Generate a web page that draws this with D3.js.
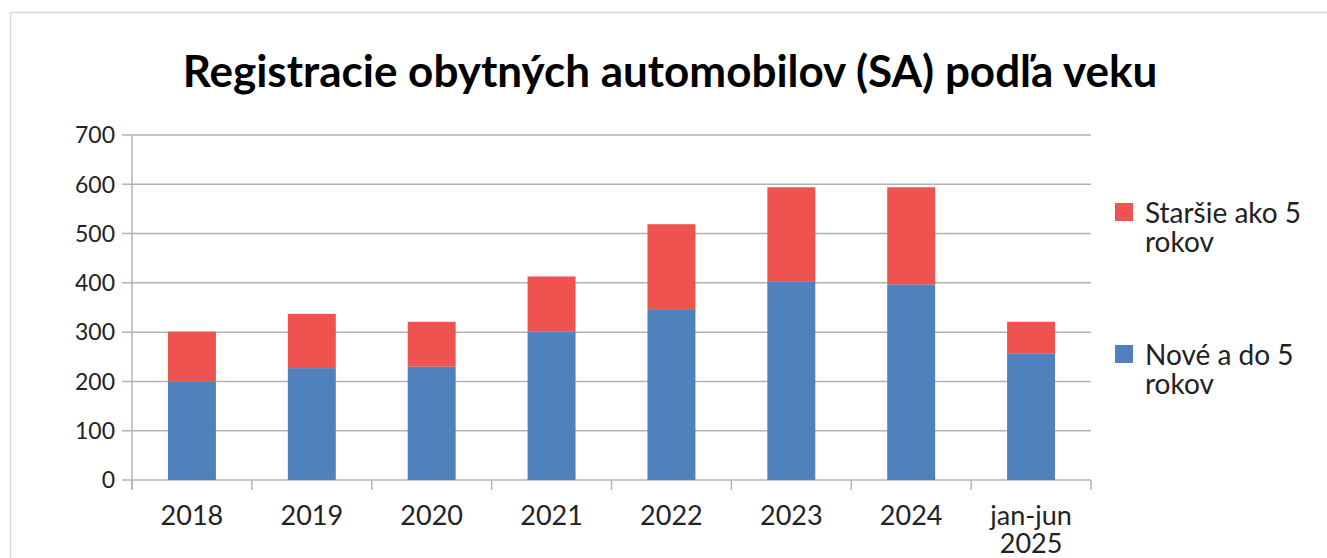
<!DOCTYPE html>
<html>
<head>
<meta charset="utf-8">
<script src="https://cdn.jsdelivr.net/npm/d3@7"></script>
<style>
  body { margin: 0; background: #fff; }
  text { font-family: Lato, "Open Sans", sans-serif; fill: #222; }
</style>
</head>
<body>
<div id="chart"></div>
<script>
//--data--
var categories = ["2018", "2019", "2020", "2021", "2022", "2023", "2024", "jan-jun 2025"];
var newUpTo5 = [200, 227, 230, 301, 345, 402, 397, 256];
var olderThan5 = [101, 110, 91, 112, 174, 192, 197, 65];
var yTicks = [0, 100, 200, 300, 400, 500, 600, 700];
var seriesColors = ["#4f81bd", "#ef5350"];

var W = 1327, H = 558;
var mLeft = 132, mRight = 1091, mTop = 135, mBottom = 480;

var svg = d3.select("#chart").append("svg")
    .attr("width", W).attr("height", H);

// frame
svg.append("rect")
    .attr("x", 10.5).attr("y", 12.5)
    .attr("width", W).attr("height", H)
    .attr("fill", "none").attr("stroke", "#d9d9d9").attr("stroke-width", 1.5);

// title
svg.append("text")
    .attr("x", 670).attr("y", 87)
    .attr("text-anchor", "middle")
    .style("font-size", "44px").style("font-weight", "bold")
    .style("fill", "#000")
    .text("Registracie obytných automobilov (SA) podľa veku");

var x = d3.scaleBand().domain(categories).range([mLeft, mRight]).paddingInner(0).paddingOuter(0);
var y = d3.scaleLinear().domain([0, 700]).range([mBottom, mTop]);

// gridlines
svg.append("g").selectAll("line").data(yTicks).join("line")
    .attr("x1", mLeft - 10).attr("x2", mRight)
    .attr("y1", function (d) { return y(d); }).attr("y2", function (d) { return y(d); })
    .attr("stroke", "#b3b3b3").attr("stroke-width", 1.5);

// y labels
svg.append("g").selectAll("text").data(yTicks).join("text")
    .attr("x", 115).attr("y", function (d) { return y(d); })
    .attr("dy", "0.36em").attr("text-anchor", "end")
    .style("font-size", "23px")
    .text(function (d) { return d; });

// y axis line
svg.append("line")
    .attr("x1", mLeft).attr("x2", mLeft).attr("y1", mTop).attr("y2", mBottom + 10)
    .attr("stroke", "#b3b3b3").attr("stroke-width", 1.5);

// x ticks at band edges
var edges = categories.map(function (c) { return x(c); }).concat([mRight]);
svg.append("g").selectAll("line").data(edges).join("line")
    .attr("x1", function (d) { return d; }).attr("x2", function (d) { return d; })
    .attr("y1", mBottom).attr("y2", mBottom + 10)
    .attr("stroke", "#b3b3b3").attr("stroke-width", 1.5);

// stacked bars
var rows = categories.map(function (c, i) {
    return { cat: c, s0: newUpTo5[i], s1: olderThan5[i] };
});
var stack = d3.stack().keys(["s0", "s1"])(rows);
var barW = x.bandwidth() * 0.4;

svg.append("g").selectAll("g").data(stack).join("g")
    .attr("fill", function (d, i) { return seriesColors[i]; })
    .selectAll("rect").data(function (d) { return d; }).join("rect")
    .attr("x", function (d) { return x(d.data.cat) + (x.bandwidth() - barW) / 2; })
    .attr("width", barW)
    .attr("y", function (d) { return y(d[1]); })
    .attr("height", function (d) { return y(d[0]) - y(d[1]); });

// x labels
var xl = svg.append("g").selectAll("text").data(categories).join("text")
    .attr("x", function (d) { return x(d) + x.bandwidth() / 2; })
    .attr("y", 525)
    .attr("text-anchor", "middle")
    .style("font-size", "27px");
xl.each(function (d) {
    var parts = d.indexOf(" ") > 0 ? d.split(" ") : [d];
    var t = d3.select(this);
    parts.forEach(function (p, i) {
        t.append("tspan").attr("x", t.attr("x")).attr("dy", i === 0 ? 0 : 28).text(p);
    });
});

// legend
var legendItems = [
    { name: ["Staršie ako 5", "rokov"], color: seriesColors[1], y: 203 },
    { name: ["Nové a do 5", "rokov"], color: seriesColors[0], y: 345 }
];
var lg = svg.append("g").selectAll("g").data(legendItems).join("g");
lg.append("rect")
    .attr("x", 1115).attr("y", function (d) { return d.y; })
    .attr("width", 18).attr("height", 18)
    .attr("fill", function (d) { return d.color; });
lg.append("text")
    .attr("x", 1145).attr("y", function (d) { return d.y + 20; })
    .style("font-size", "28px")
    .each(function (d) {
        var t = d3.select(this);
        d.name.forEach(function (p, i) {
            t.append("tspan").attr("x", 1145).attr("dy", i === 0 ? 0 : 29).text(p);
        });
    });
</script>
</body>
</html>
